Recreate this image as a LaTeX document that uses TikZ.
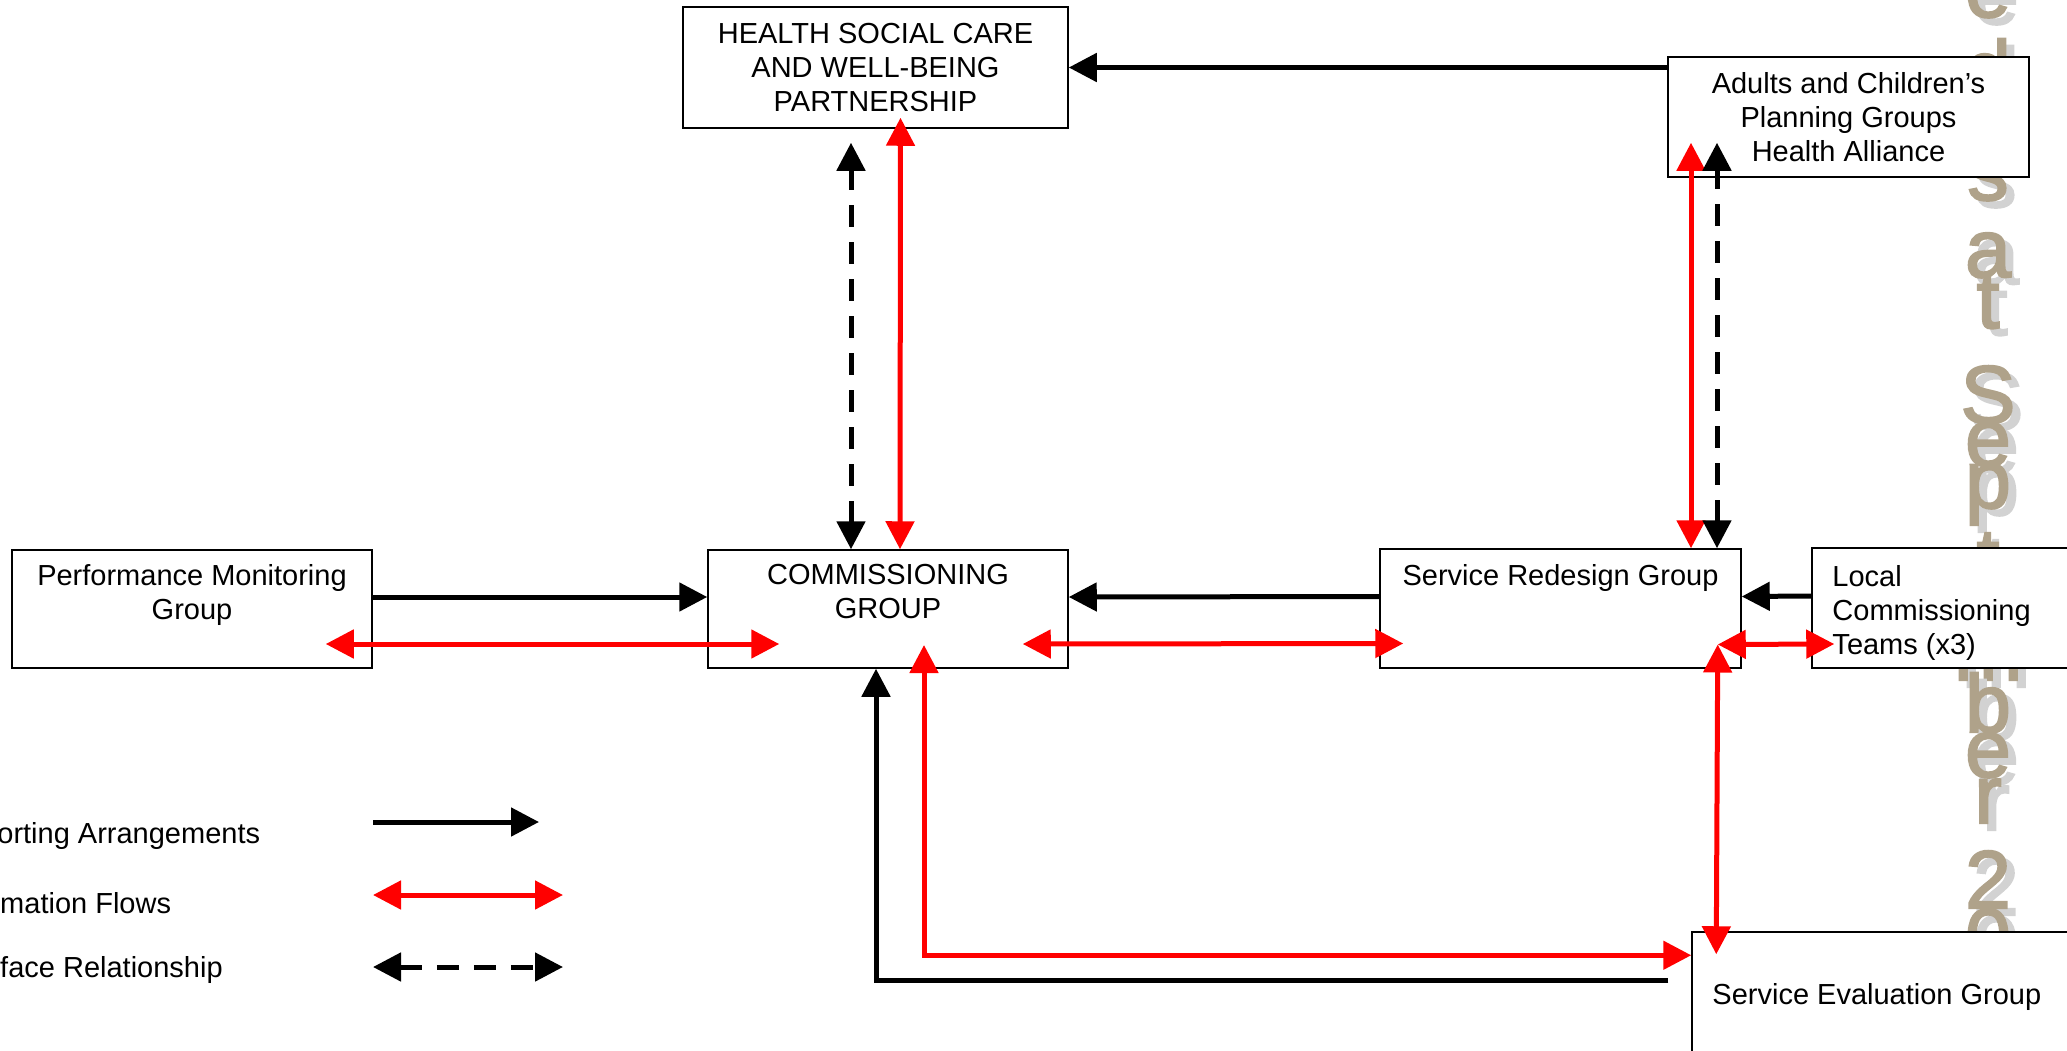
\documentclass[tikz,border=0pt]{standalone}
\usepackage{fontspec}
\setmainfont{Liberation Sans}
\newfontfamily\wmfont[FakeBold=2.5]{Liberation Sans}
\usepackage{tikz}
\usetikzlibrary{arrows.meta,calc}
\definecolor{flowRed}{HTML}{FF0000}
\definecolor{wmTan}{HTML}{AFA28A}
\definecolor{wmShade}{HTML}{D2D2D2}
\tikzset{
  % Group boxes: thin frame, white fill so the watermark sits behind them.
  org/box/.style={
    draw=black, fill=white, line width=1.5pt, inner sep=0pt
  },
  % Box and key text.
  org/text/.style={
    font=\fontsize{29}{34}\selectfont, align=center, inner sep=0pt, text=black
  },
  % Vertical watermark, one letter per node.
  wm/letter/.style={font=\wmfont\fontsize{82}{82}\selectfont, text=wmTan, inner sep=0pt},
  wm/shade/.style={font=\wmfont\fontsize{82}{82}\selectfont, text=wmShade, inner sep=0pt},
}

\begin{document}
\begin{tikzpicture}[x=1pt,y=-1pt,
  >={Triangle[length=28pt,width=28pt]},
  report/.style={->, draw=black, line width=5pt},
  flow/.style={<->, draw=flowRed, line width=5pt},
  iface/.style={<->, draw=black, line width=5pt, dash pattern=on 22pt off 15pt}]

  \useasboundingbox (0,0) rectangle (2067,1050);

  % watermark
  \foreach \ch/\yb [count=\k] in {e/17, d/98, a/150, s/200, a/277, t/328, S/423, e/466,
      p/508, t/586, e/632, m/680, b/732, e/777, r/823, 2/908, 0/966} {
    \node[wm/shade, anchor=base] (wmS\k) at (1996,\yb+7) {\ch};
    \node[wm/letter, anchor=base] (wmL\k) at (1988,\yb) {\ch};
  }

  \node[org/box, org/text, minimum width=385pt, minimum height=121pt] (hsc) at (875.5,67.5)
       {HEALTH SOCIAL CARE\\AND WELL-BEING\\PARTNERSHIP};
  \node[org/box, org/text, minimum width=361pt, minimum height=120pt] (adults) at (1848.5,117)
       {Adults and Children’s\\Planning Groups\\Health Alliance};

  \node[org/box, minimum width=360pt, minimum height=118pt,
    label={[org/text, anchor=north, yshift=-15pt]north:Performance Monitoring\\Group}] (perf) at (192,609) {};
  \node[org/box, minimum width=360pt, minimum height=118pt,
    label={[org/text, anchor=north, yshift=-15pt]north:COMMISSIONING\\GROUP}] (comm) at (888,609) {};
  \node[org/box, minimum width=361pt, minimum height=119pt,
    label={[org/text, anchor=north, yshift=-16pt]north:Service Redesign Group}] (redesign) at (1560.5,608.5) {};
  \node[org/box, minimum width=288pt, minimum height=120pt,
    label={[org/text, align=left, anchor=north west, xshift=21pt, yshift=-18pt]north west:Local\\Commissioning\\Teams (x3)}] (local) at (1956,608) {};
  \node[org/box, minimum width=408pt, minimum height=140pt,
    label={[org/text, align=left, anchor=north west, xshift=21pt, yshift=-52pt]north west:Service Evaluation Group}] (eval) at (1896,1002) {};

  % reporting lines
  \draw[report] (adults.west |- hsc.east) -- (hsc.east);
  \draw[report] ([yshift=12pt]perf.east) -- ([yshift=12pt]comm.west);
  \draw[report] ([yshift=12pt]redesign.west) -- ([yshift=12pt]comm.east);
  \draw[report] ([yshift=12pt]local.west) -- ([yshift=12pt]redesign.east);
  \draw[report] ([xshift=-23pt,yshift=-49pt]eval.north west) -| ([xshift=-12pt]comm.south);

  % information flows
  \draw[flow] ([xshift=-47pt,yshift=-35pt]perf.east) -- ([xshift=72pt,yshift=-35pt]comm.west);
  \draw[flow] ([xshift=-46pt,yshift=-35pt]comm.east) -- ([xshift=24pt,yshift=-35pt]redesign.west);
  \draw[flow] ([xshift=-24pt,yshift=-36pt]redesign.east) -- ([xshift=23pt,yshift=-36pt]local.west);
  \draw[flow] ([xshift=12pt]comm.north) -- ([xshift=25pt,yshift=11pt]hsc.south);
  \draw[flow] ([xshift=130.5pt]redesign.north) -- ([xshift=-157.5pt,yshift=35pt]adults.south);
  \draw[flow] ([xshift=-24pt,yshift=-36pt]redesign.east) -- ([xshift=25pt,yshift=-23pt]eval.north west);
  \draw[flow] ([xshift=36pt,yshift=-36pt]comm.center) |- ([yshift=-24pt]eval.north west);

  % interface relationships
  \draw[iface] ([xshift=-37pt]comm.north) -- ([xshift=-24.5pt,yshift=-14pt]hsc.south);
  \draw[iface] ([xshift=156.5pt]redesign.north) -- ([xshift=-131.5pt,yshift=35pt]adults.south);

  % key
  \node[org/text, anchor=west] (keyRep) at (-56,836) {Reporting Arrangements};
  \node[org/text, anchor=west] (keyFlow) at (-58,903) {Information Flows};
  \node[org/text, anchor=west] (keyIface) at (-58,970) {Interface Relationship};
  \coordinate (keyRepA) at (373,822);   \coordinate (keyRepB) at (539,822);
  \coordinate (keyFlowA) at (373,895);  \coordinate (keyFlowB) at (563,895);
  \coordinate (keyIfaceA) at (373,967); \coordinate (keyIfaceB) at (563,967);
  \draw[report] (keyRepA) -- (keyRepB);
  \draw[flow] (keyFlowA) -- (keyFlowB);
  \draw[iface] (keyIfaceA) -- (keyIfaceB);
\end{tikzpicture}
\end{document}
